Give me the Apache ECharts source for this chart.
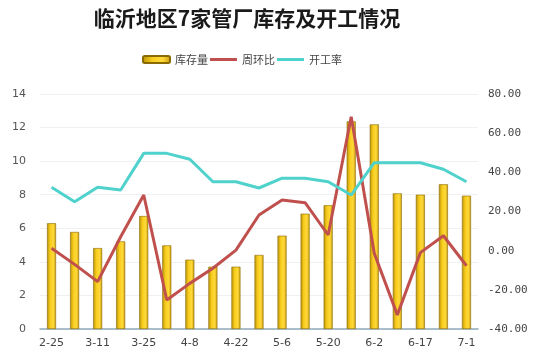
<!DOCTYPE html>
<html><head><meta charset="utf-8">
<script src="https://cdn.jsdelivr.net/npm/echarts@6/dist/echarts.min.js"></script>
<style>html,body{margin:0;padding:0;background:#fff}#c{width:544px;height:357px}</style>
</head><body><div id="c"></div>
<script>
const categories = ['2-25','3-4','3-11','3-18','3-25','4-1','4-8','4-15','4-22','4-29','5-6','5-13','5-20','5-27','6-2','6-10','6-17','6-24','7-1'];
const inventory = [6.3,5.78,4.82,5.22,6.73,4.98,4.13,3.71,3.71,4.41,5.56,6.87,7.37,12.37,12.19,8.08,8.0,8.62,7.94];
const weekChange = [1.2,-7,-15.8,7.1,28.4,-25.2,-16.7,-9,0.3,18.2,25.9,24.5,8,68.4,-1.3,-32.8,-1,7.6,-7.7];
const operatingRate = [32.4,25,32.4,31,49.7,49.7,46.7,35.2,35.2,32,37,37,35.2,28.4,44.9,44.9,44.9,41.6,35.2];
const leftTicks = {min:0,max:14,interval:2};
const rightTicks = {min:-40,max:80,interval:20};

const chart = echarts.init(document.getElementById('c'));
const barColor = new echarts.graphic.LinearGradient(0,0,1,0,[
  {offset:0,color:'#b8900a'},{offset:0.35,color:'#f7cc1c'},{offset:0.7,color:'#ffd93a'},{offset:1,color:'#c99c0c'}]);
const lineIcon = 'path://M0,0 L27,0 L27,3 L0,3 Z';
chart.setOption({
  animation:false,
  title:{text:'临沂地区7家管厂库存及开工情况',left:242,textAlign:'center',top:3,
    textStyle:{fontFamily:'Noto Sans CJK SC',fontWeight:'bold',fontSize:21,color:'#1a1a1a'}},
  legend:{top:49,left:137,itemGap:2,itemWidth:27,itemHeight:7,
    textStyle:{fontSize:11,color:'#444',fontFamily:'Noto Sans CJK SC'},
    data:[{name:'库存量'},{name:'周环比',icon:lineIcon},{name:'开工率',icon:lineIcon}]},
  grid:{left:40,right:66,top:94,bottom:28},
  xAxis:{type:'category',data:categories,
    axisLine:{lineStyle:{color:'#8fa9bb',width:1.5}},axisTick:{show:false},
    axisLabel:{interval:1,color:'#444',fontSize:11,margin:9,fontFamily:'DejaVu Sans'}},
  yAxis:[
    {type:'value',min:leftTicks.min,max:leftTicks.max,interval:leftTicks.interval,
     axisLine:{show:false},axisTick:{show:false},
     axisLabel:{color:'#555',fontSize:11,margin:14,fontFamily:'DejaVu Sans'},
     splitLine:{lineStyle:{color:'#f0f0f0'}}},
    {type:'value',min:rightTicks.min,max:rightTicks.max,interval:rightTicks.interval,
     axisLine:{show:false},axisTick:{show:false},
     axisLabel:{color:'#444',fontSize:11,margin:10,fontFamily:'DejaVu Sans Mono',formatter:v=>v.toFixed(2)},
     splitLine:{show:false}}
  ],
  series:[
    {name:'库存量',type:'bar',data:inventory,barWidth:9,
     itemStyle:{color:barColor,borderColor:'#8a6a05',borderWidth:0.6}},
    {name:'周环比',type:'line',yAxisIndex:1,data:weekChange,symbol:'none',
     lineStyle:{color:'#c0504d',width:3},itemStyle:{color:'#c0504d'}},
    {name:'开工率',type:'line',yAxisIndex:1,data:operatingRate,symbol:'none',
     lineStyle:{color:'#4fd1cc',width:3},itemStyle:{color:'#4fd1cc'}}
  ]
});
</script></body></html>
